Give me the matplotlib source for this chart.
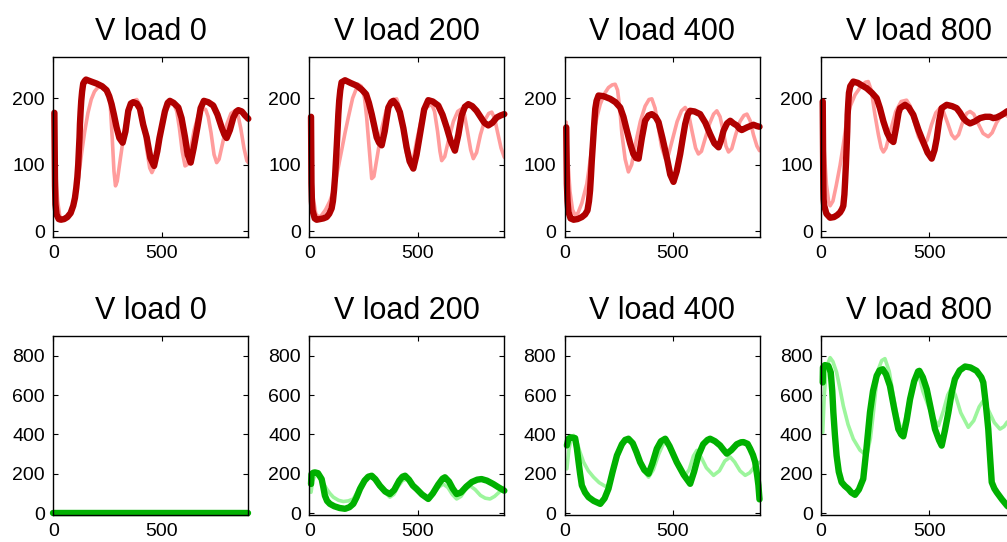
import matplotlib
matplotlib.use("Agg")
import matplotlib.pyplot as plt

plt.rcParams['font.family'] = ['Liberation Sans', 'DejaVu Sans']

load_levels = [0, 200, 400, 800]
x_ticks = [0, 500]
top_y_ticks = [0, 100, 200]
bottom_y_ticks = [0, 200, 400, 600, 800]

# ---- top row: reference trace (light) and simulated trace (dots) ----
top_ref_x_0 = [0, 10, 20, 30, 42, 55, 70, 85, 100, 115, 131, 145, 160, 175, 190, 205, 220, 235, 250, 262, 272, 280, 287, 295, 310, 330, 350, 370, 385, 400, 415, 430, 445, 455, 465, 480, 500, 520, 540, 557, 570, 582, 595, 608, 618, 632, 650, 670, 690, 703, 715, 728, 742, 754, 765, 780, 800, 820, 838, 852, 865, 880, 893, 900]
top_ref_y_0 = [146, 95, 45, 22, 18, 19, 25, 33, 50, 78, 118, 150, 178, 198, 210, 216, 217, 214, 208, 195, 140, 90, 68, 75, 110, 155, 183, 196, 198, 190, 165, 125, 95, 88, 95, 125, 160, 183, 191, 191, 180, 155, 120, 98, 100, 120, 152, 175, 184, 183, 172, 148, 115, 103, 108, 130, 160, 177, 181, 175, 155, 125, 106, 103]
top_sim_x_0 = [5, 8, 10, 15, 25, 35, 50, 65, 80, 92, 100, 106, 111, 115, 118, 121, 123, 126, 129, 133, 138, 145, 151, 175, 200, 225, 246, 258, 269, 280, 292, 305, 320, 333, 346, 358, 369, 385, 400, 415, 431, 448, 465, 480, 490, 500, 515, 528, 538, 555, 577, 592, 608, 620, 634, 648, 665, 680, 695, 715, 738, 758, 777, 790, 800, 815, 831, 845, 854, 870, 885, 900]
top_sim_y_0 = [178, 68, 40, 25, 18, 17, 18, 21, 27, 38, 50, 65, 81, 100, 121, 141, 161, 180, 196, 210, 222, 226, 228, 225, 222, 218, 212, 203, 191, 175, 156, 140, 133, 150, 181, 192, 194, 192, 184, 160, 141, 110, 98, 120, 140, 156, 180, 193, 196, 193, 186, 170, 141, 115, 103, 125, 156, 185, 196, 194, 189, 175, 156, 145, 140, 152, 171, 180, 182, 180, 174, 169]

top_ref_x_200 = [0, 8, 18, 30, 42, 55, 75, 95, 111, 130, 149, 165, 180, 200, 225, 240, 255, 265, 275, 288, 298, 315, 335, 355, 380, 403, 418, 432, 448, 465, 478, 495, 515, 540, 565, 578, 592, 603, 611, 625, 645, 665, 685, 703, 716, 730, 745, 757, 772, 790, 810, 828, 842, 855, 868, 885, 900]
top_ref_y_200 = [154, 100, 50, 26, 21, 23, 32, 45, 60, 90, 121, 148, 171, 200, 221, 218, 200, 170, 130, 79, 82, 115, 155, 182, 197, 199, 185, 155, 118, 99, 105, 135, 165, 186, 191, 180, 150, 120, 106, 112, 140, 165, 180, 184, 175, 150, 122, 109, 118, 145, 167, 177, 179, 170, 150, 125, 111]
top_sim_x_200 = [8, 10, 12, 15, 25, 34, 50, 65, 80, 92, 103, 109, 114, 119, 123, 127, 131, 134, 138, 143, 149, 165, 190, 218, 242, 262, 275, 288, 300, 311, 322, 334, 348, 365, 378, 388, 403, 418, 434, 449, 463, 480, 495, 511, 530, 549, 570, 595, 615, 634, 652, 672, 688, 703, 718, 734, 752, 772, 790, 808, 826, 845, 865, 883, 900]
top_sim_y_200 = [172, 72, 45, 31, 19, 17, 18, 19, 21, 26, 34, 45, 61, 82, 106, 130, 156, 176, 196, 212, 224, 227, 223, 219, 213, 206, 193, 176, 158, 141, 133, 129, 150, 186, 194, 196, 190, 179, 155, 126, 105, 94, 115, 146, 183, 197, 195, 189, 175, 156, 136, 121, 145, 174, 187, 191, 188, 181, 172, 163, 159, 163, 171, 174, 176]

top_ref_x_400 = [8, 15, 25, 37, 49, 62, 80, 103, 118, 134, 150, 165, 185, 203, 220, 234, 245, 255, 265, 280, 295, 310, 330, 350, 372, 390, 403, 418, 432, 448, 465, 480, 500, 520, 540, 557, 572, 590, 605, 618, 632, 650, 670, 688, 703, 718, 733, 745, 757, 772, 790, 810, 828, 842, 857, 872, 888, 900]
top_ref_y_400 = [164, 110, 60, 32, 24, 27, 42, 71, 105, 146, 172, 191, 207, 216, 220, 221, 212, 185, 146, 108, 89, 100, 135, 165, 188, 198, 199, 185, 158, 127, 109, 115, 140, 165, 181, 186, 177, 148, 125, 116, 120, 140, 162, 176, 181, 172, 150, 128, 119, 124, 145, 165, 174, 176, 166, 145, 128, 121]
top_sim_x_400 = [8, 11, 14, 18, 28, 42, 60, 80, 95, 106, 113, 118, 122, 126, 130, 134, 138, 142, 148, 157, 180, 211, 235, 257, 272, 288, 303, 318, 330, 342, 357, 372, 388, 403, 420, 434, 452, 472, 488, 503, 518, 534, 546, 557, 568, 580, 600, 626, 650, 672, 692, 711, 722, 734, 750, 765, 780, 795, 808, 818, 830, 842, 857, 872, 888, 900]
top_sim_y_400 = [156, 71, 45, 29, 19, 17, 18, 21, 25, 31, 45, 61, 82, 106, 126, 146, 166, 184, 196, 204, 203, 199, 194, 186, 172, 151, 132, 116, 110, 109, 140, 166, 174, 176, 172, 164, 140, 111, 85, 74, 90, 116, 140, 161, 175, 181, 180, 176, 163, 146, 132, 126, 136, 151, 162, 166, 162, 159, 154, 152, 154, 156, 158, 160, 158, 157]

top_ref_x_800 = [8, 15, 25, 35, 42, 55, 70, 88, 103, 118, 135, 157, 185, 205, 218, 232, 249, 265, 278, 288, 300, 320, 345, 370, 395, 412, 430, 450, 472, 490, 510, 530, 549, 565, 585, 603, 618, 635, 655, 672, 688, 705, 725, 748, 772, 790, 810, 830, 850, 865, 885, 900]
top_ref_y_800 = [177, 120, 70, 45, 38, 45, 68, 99, 130, 165, 188, 205, 218, 224, 225, 212, 175, 145, 125, 119, 125, 150, 180, 195, 197, 188, 165, 142, 129, 137, 160, 178, 185, 180, 162, 145, 139, 145, 165, 177, 180, 176, 162, 147, 142, 148, 163, 173, 175, 172, 160, 150]
top_sim_x_800 = [8, 10, 11, 12, 15, 25, 42, 60, 75, 88, 97, 103, 108, 111, 115, 118, 121, 123, 126, 129, 135, 149, 170, 190, 211, 235, 257, 272, 288, 305, 320, 334, 348, 358, 365, 388, 405, 426, 450, 472, 492, 511, 524, 534, 545, 557, 580, 605, 626, 642, 657, 672, 688, 710, 734, 758, 780, 795, 811, 830, 845, 858, 880, 900]
top_sim_y_800 = [195, 98, 63, 48, 38, 26, 20, 21, 24, 28, 33, 38, 55, 73, 100, 124, 150, 175, 193, 208, 218, 225, 223, 219, 215, 208, 200, 185, 165, 148, 138, 134, 158, 178, 185, 190, 186, 175, 152, 134, 118, 109, 122, 139, 165, 185, 190, 188, 185, 178, 170, 165, 162, 165, 170, 172, 172, 170, 171, 174, 177, 180, 183, 185]

# ---- bottom row: reference trace (light) and simulated trace (dots) ----
bot_ref_x_0 = [0, 900]
bot_ref_y_0 = [0, 0]
bot_sim_x_0 = [0, 900]
bot_sim_y_0 = [0, 0]

bot_ref_x_200 = [8, 15, 25, 40, 55, 80, 95, 111, 135, 157, 180, 203, 220, 234, 255, 280, 300, 320, 345, 372, 390, 410, 430, 449, 470, 495, 520, 540, 557, 575, 595, 618, 640, 660, 680, 700, 720, 742, 765, 790, 812, 834, 855, 880, 900]
bot_ref_y_200 = [106, 160, 190, 192, 170, 123, 100, 81, 65, 59, 62, 72, 105, 139, 172, 190, 178, 150, 110, 81, 95, 135, 165, 173, 155, 120, 95, 84, 81, 100, 130, 148, 130, 95, 72, 85, 118, 139, 120, 90, 76, 72, 85, 110, 131]
bot_sim_x_200 = [8, 10, 18, 26, 40, 57, 65, 72, 82, 95, 115, 140, 165, 185, 203, 218, 234, 255, 272, 288, 305, 326, 350, 372, 392, 415, 430, 442, 460, 478, 495, 520, 549, 570, 595, 615, 626, 645, 662, 680, 700, 725, 750, 775, 795, 820, 849, 875, 900]
bot_sim_y_200 = [148, 198, 205, 207, 203, 173, 130, 89, 62, 47, 35, 26, 22, 30, 47, 80, 123, 165, 185, 190, 172, 139, 110, 97, 118, 165, 185, 190, 170, 140, 123, 95, 72, 100, 145, 175, 182, 160, 125, 97, 105, 135, 158, 170, 173, 165, 148, 130, 114]

bot_ref_x_400 = [11, 20, 30, 42, 55, 70, 88, 110, 134, 160, 195, 215, 242, 265, 295, 320, 345, 365, 388, 410, 435, 455, 472, 490, 515, 540, 557, 575, 595, 611, 630, 655, 688, 715, 740, 765, 785, 810, 834, 855, 880, 900]
bot_ref_y_400 = [225, 320, 375, 395, 370, 315, 259, 215, 183, 155, 132, 170, 276, 345, 378, 340, 270, 215, 183, 220, 300, 350, 361, 330, 260, 210, 192, 220, 290, 319, 285, 230, 192, 215, 265, 285, 260, 215, 192, 205, 240, 259]
bot_sim_x_400 = [11, 18, 30, 49, 57, 65, 72, 80, 95, 111, 135, 165, 185, 203, 222, 242, 265, 280, 295, 315, 332, 349, 368, 388, 405, 426, 445, 465, 485, 518, 550, 580, 598, 618, 640, 660, 672, 695, 718, 735, 749, 770, 795, 815, 826, 845, 857, 870, 880, 890, 895, 900]
bot_sim_y_400 = [344, 378, 385, 381, 330, 259, 200, 141, 105, 81, 62, 47, 75, 124, 210, 293, 350, 372, 378, 355, 310, 259, 220, 200, 250, 327, 365, 378, 340, 259, 195, 149, 210, 293, 350, 372, 378, 365, 344, 320, 302, 320, 350, 360, 361, 352, 327, 295, 259, 185, 141, 70]

bot_ref_x_800 = [8, 15, 25, 42, 55, 72, 88, 103, 125, 149, 180, 211, 228, 242, 255, 265, 280, 295, 315, 334, 352, 372, 390, 411, 430, 449, 470, 495, 520, 542, 565, 585, 603, 620, 645, 680, 705, 730, 749, 770, 800, 826, 845, 858, 880, 900]
bot_ref_y_800 = [410, 600, 740, 790, 770, 715, 630, 545, 450, 377, 320, 292, 380, 512, 650, 731, 775, 785, 720, 596, 490, 410, 480, 596, 680, 715, 620, 545, 480, 444, 520, 600, 639, 600, 510, 436, 470, 540, 571, 530, 460, 427, 440, 461, 480, 490]
bot_sim_x_800 = [8, 9, 18, 34, 45, 52, 57, 64, 72, 82, 95, 110, 126, 140, 157, 175, 195, 210, 226, 240, 257, 270, 285, 300, 318, 338, 357, 370, 380, 395, 411, 430, 448, 454, 470, 488, 505, 526, 545, 557, 572, 588, 603, 618, 640, 665, 690, 718, 740, 749, 760, 772, 780, 788, 800, 811, 835, 858, 880, 900]
bot_sim_y_800 = [664, 740, 752, 748, 715, 620, 512, 400, 292, 210, 157, 138, 123, 105, 93, 120, 174, 330, 512, 620, 698, 725, 731, 705, 647, 530, 427, 400, 390, 470, 579, 670, 720, 723, 690, 630, 540, 427, 370, 343, 420, 512, 610, 681, 725, 745, 740, 723, 690, 664, 560, 427, 290, 157, 125, 106, 70, 39, 15, 5]

top_ref = [(top_ref_x_0, top_ref_y_0), (top_ref_x_200, top_ref_y_200),
           (top_ref_x_400, top_ref_y_400), (top_ref_x_800, top_ref_y_800)]
top_sim = [(top_sim_x_0, top_sim_y_0), (top_sim_x_200, top_sim_y_200),
           (top_sim_x_400, top_sim_y_400), (top_sim_x_800, top_sim_y_800)]
bot_ref = [(bot_ref_x_0, bot_ref_y_0), (bot_ref_x_200, bot_ref_y_200),
           (bot_ref_x_400, bot_ref_y_400), (bot_ref_x_800, bot_ref_y_800)]
bot_sim = [(bot_sim_x_0, bot_sim_y_0), (bot_sim_x_200, bot_sim_y_200),
           (bot_sim_x_400, bot_sim_y_400), (bot_sim_x_800, bot_sim_y_800)]

RED_LIGHT, RED_DARK = "#ff9c9c", "#b00000"
GREEN_LIGHT, GREEN_DARK = "#9cf59c", "#00b000"

W, H = 1007, 542
fig = plt.figure(figsize=(W / 100, H / 100), dpi=100)

col_left = [53.3, 309.3, 564.5, 821.0]
ax_w = 195.0
rows = [
    dict(top=57.0, bottom=237.0, ylim=(-9, 262), yticks=top_y_ticks,
         ref=top_ref, sim=top_sim, light=RED_LIGHT, dark=RED_DARK),
    dict(top=336.0, bottom=514.5, ylim=(-7, 900), yticks=bottom_y_ticks,
         ref=bot_ref, sim=bot_sim, light=GREEN_LIGHT, dark=GREEN_DARK),
]

for row in rows:
    for i, load in enumerate(load_levels):
        left = col_left[i]
        ax = fig.add_axes([left / W, 1 - row["bottom"] / H, ax_w / W,
                           (row["bottom"] - row["top"]) / H])
        rx, ry = row["ref"][i]
        sx, sy = row["sim"][i]
        ax.plot(rx, ry, color=row["light"], lw=2.6, solid_joinstyle="round",
                solid_capstyle="round", zorder=2)
        ax.plot(sx, sy, color=row["dark"], lw=4.6, solid_joinstyle="round",
                solid_capstyle="round", zorder=3, clip_on=False)
        ax.set_xlim(0, 900)
        ax.set_ylim(*row["ylim"])
        ax.set_xticks(x_ticks)
        ax.set_yticks(row["yticks"])
        ax.tick_params(direction="in", length=3.5, width=0.8, top=True,
                       right=True, labelsize=14, pad=6)
        for sp in ax.spines.values():
            sp.set_linewidth(1.0)
            sp.set_zorder(4)
        ax.set_title(f"V load {load}", fontsize=22, pad=12)

fig.savefig("out.png", dpi=100)
